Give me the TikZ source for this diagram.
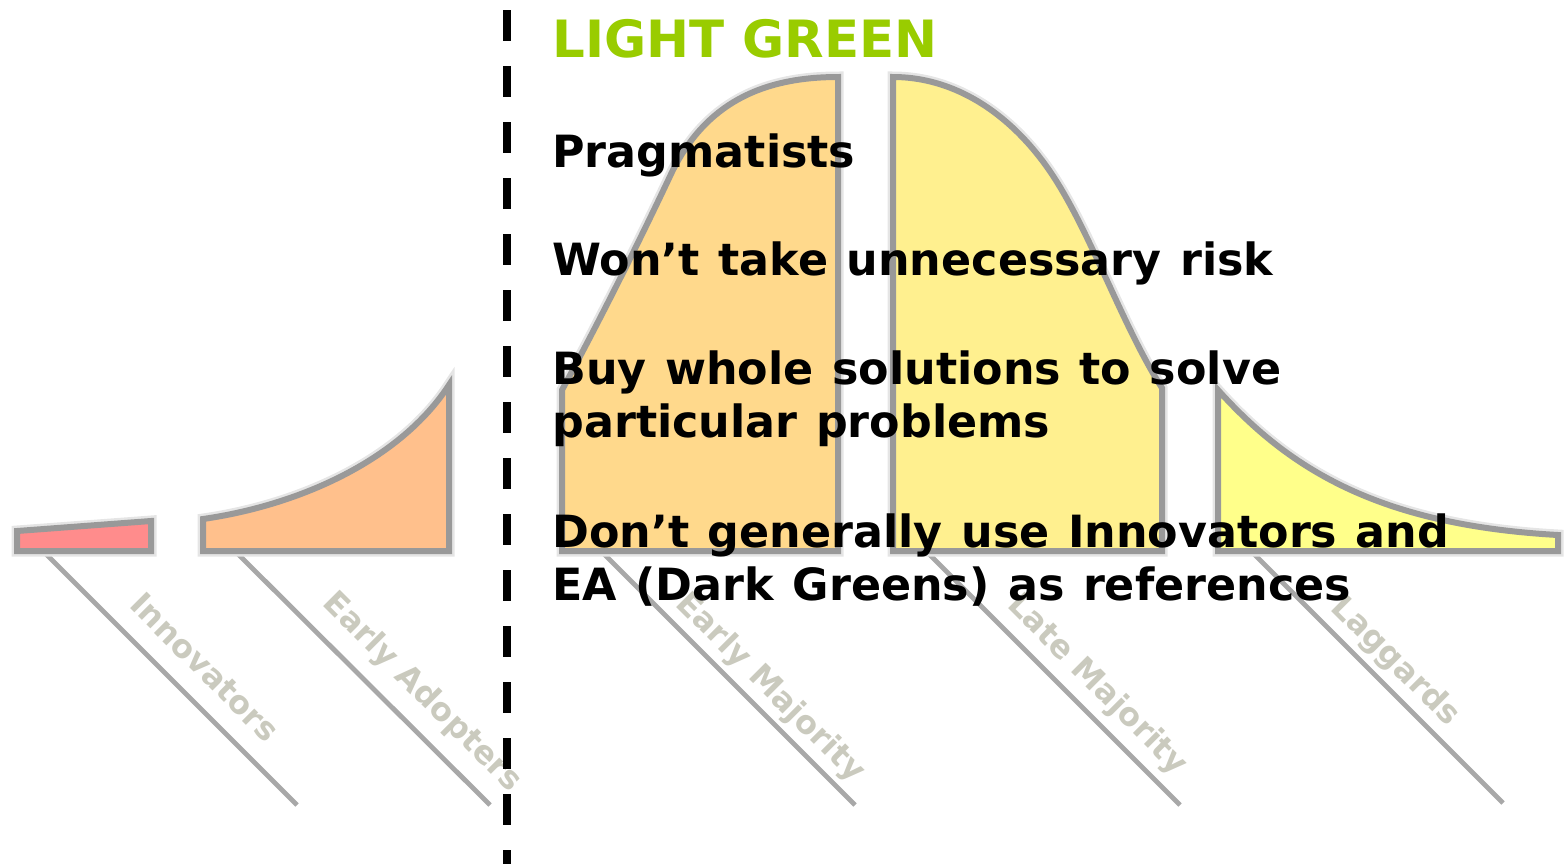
\documentclass[tikz,border=0pt]{standalone}
\usepackage{fontspec}
\setmainfont{DejaVu Sans}
\newfontfamily\bodyfont[WordSpace=1.2]{DejaVu Sans}
\definecolor{segline}{HTML}{999999}
\definecolor{leadgray}{HTML}{A8A8A8}
\definecolor{labgray}{HTML}{CACABE}
\definecolor{lgreen}{HTML}{99CC00}
\definecolor{cInno}{HTML}{FF8C8C}
\definecolor{cEA}{HTML}{FFC08C}
\definecolor{cEM}{HTML}{FFD98C}
\definecolor{cLM}{HTML}{FFF08F}
\definecolor{cLag}{HTML}{FFFF8A}
\begin{document}
\begin{tikzpicture}[x=0.5pt,y=-0.5pt,
  seg/.style={draw=segline, line width=3pt, line join=miter},
  halo/.style={draw=black!10, line width=5.5pt, line join=miter},
  leader/.style={draw=leadgray, line width=2.4pt},
  catlabel/.style={font=\bfseries\fontsize{16}{19}\selectfont, text=labgray, rotate=-45, inner sep=0pt},
  bodytext/.style={font=\bodyfont\bfseries\fontsize{22.2}{26}\selectfont, anchor=base west, inner sep=0pt, text=black},
  titletext/.style={font=\bfseries\fontsize{25.7}{30}\selectfont, anchor=base west, inner sep=0pt, text=lgreen},
  divider/.style={draw=black, line width=4pt, dash pattern=on 15.5pt off 12.5pt}
]
\useasboundingbox (0,0) rectangle (1564,864);

% leader lines
\coordinate (l1a) at (43,551);   \coordinate (l1b) at (297,805);
\coordinate (l2a) at (235,551);  \coordinate (l2b) at (490,805);
\coordinate (l3a) at (601,551);  \coordinate (l3b) at (855,805);
\coordinate (l4a) at (926,551);  \coordinate (l4b) at (1180,805);
\coordinate (l5a) at (1251,551); \coordinate (l5b) at (1503,803);
\foreach \i in {1,...,5} {\draw[leader] (l\i a) -- (l\i b);}

% category labels
\node[catlabel] (labInno) at (205,667) {Innovators};
\node[catlabel] (labEA)   at (422,693) {Early Adopters};
\node[catlabel] (labEM)   at (770,688) {Early Majority};
\node[catlabel] (labLM)   at (1097,685) {Late Majority};
\node[catlabel] (labLag)  at (1395,662) {Laggards};

% segments of the bell curve
\def\pInno{(17,531) -- (151,521) -- (151,551) -- (17,551) -- cycle}
\def\pEA{(203,519) .. controls (300,505) and (400,460) .. (449,385) -- (449,551) -- (203,551) -- cycle}
\def\pEM{(562,551) -- (562,390) .. controls (600,320) and (640,240) .. (672,172) .. controls (705,105) and (760,77) .. (838,77) -- (838,551) -- cycle}
\def\pLM{(893,551) -- (893,77) .. controls (960,77) and (1020,120) .. (1060,187) .. controls (1095,245) and (1125,330) .. (1162,388) -- (1162,551) -- cycle}
\def\pLag{(1218,551) -- (1218,390) .. controls (1290,470) and (1380,525) .. (1558,535) -- (1558,551) -- cycle}

\draw[halo] \pInno; \draw[halo] \pEA; \draw[halo] \pEM; \draw[halo] \pLM; \draw[halo] \pLag;
\filldraw[seg, fill=cInno] \pInno;
\filldraw[seg, fill=cEA] \pEA;
\filldraw[seg, fill=cEM] \pEM;
\filldraw[seg, fill=cLM] \pLM;
\filldraw[seg, fill=cLag] \pLag;

% dashed divider
\coordinate (dTop) at (507,10);
\coordinate (dBot) at (507,864);
\draw[divider] (dTop) -- (dBot);

% texts
\node[titletext] (title) at (552,57) {LIGHT GREEN};
\node[bodytext] (t1) at (552,167) {Pragmatists};
\node[bodytext] (t2) at (552,275) {Won’t take unnecessary risk};
\node[bodytext] (t3) at (552,384) {Buy whole solutions to solve};
\node[bodytext] (t4) at (552,437) {particular problems};
\node[bodytext] (t5) at (552,547) {Don’t generally use Innovators and};
\node[bodytext] (t6) at (552,600) {EA (Dark Greens) as references};
\end{tikzpicture}
\end{document}
